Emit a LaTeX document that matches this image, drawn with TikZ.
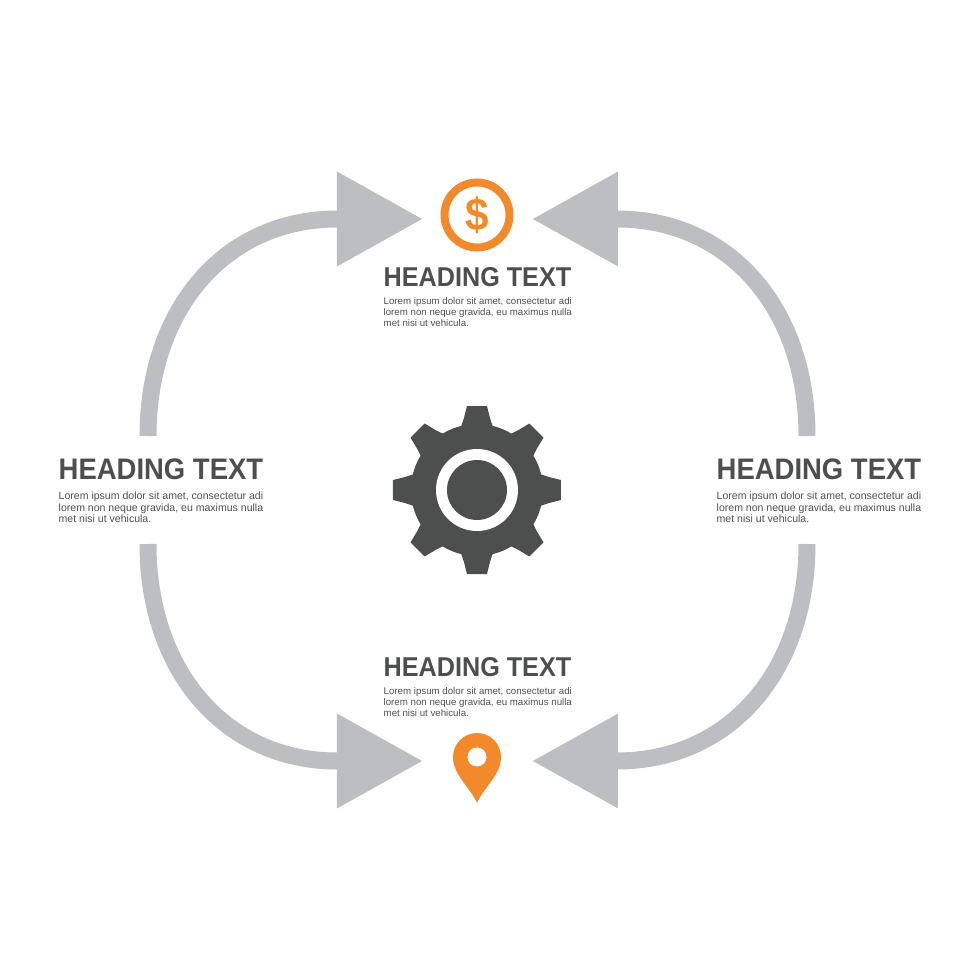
\documentclass[tikz,border=0pt]{standalone}
\usepackage{fontspec}
\setmainfont{Liberation Sans}
\newfontfamily\headfont[FakeStretch=0.925]{Liberation Sans Bold}
\usepackage{xcolor}
\usetikzlibrary{arrows.meta,positioning}
\definecolor{flowgrey}{HTML}{BCBEC2}
\definecolor{darkgrey}{HTML}{4D4E4E}
\definecolor{iconorange}{HTML}{F28A2C}
\newcommand{\loremtext}{Lorem ipsum dolor sit amet, consectetur adi\\lorem non neque gravida, eu maximus nulla\\met nisi ut vehicula.}
\tikzset{
  heading/.style={anchor=west,inner sep=0pt,text=darkgrey,font=\fontsize{7.75}{9}\headfont},
  sideheading/.style={heading,font=\fontsize{8.45}{9}\headfont},
  body/.style={inner sep=0pt,align=left,text=darkgrey,font=\fontsize{2.76}{3.15}\selectfont},
  sidebody/.style={body,font=\fontsize{3.0}{3.27}\selectfont},
  flow/.style={draw=flowgrey,line width=.17cm,-{Triangle[length=.86cm,width=.90cm,sep=0pt]}}
}

\begin{document}
\begin{tikzpicture}
\useasboundingbox (0,0) rectangle (9.8,9.8);

\node[heading] (tophead) at (3.83,7.03) {HEADING TEXT};
\node[sideheading] (lefthead) at (0.58,5.11) {HEADING TEXT};
\node[sideheading] (righthead) at (7.16,5.11) {HEADING TEXT};
\node[heading] (bottomhead) at (3.83,3.13) {HEADING TEXT};
\node[body, below=.09cm of tophead.south west, anchor=north west] (topbody) {\loremtext};
\node[sidebody, below=.11cm of lefthead.south west, anchor=north west] (leftbody) {\loremtext};
\node[sidebody, below=.11cm of righthead.south west, anchor=north west] (rightbody) {\loremtext};
\node[body, below=.09cm of bottomhead.south west, anchor=north west] (bottombody) {\loremtext};

% dollar icon
\node[circle,draw=iconorange,line width=.08cm,minimum size=.65cm,inner sep=0pt,
  text=iconorange,font=\fontsize{13}{13}\headfont] (dollar) at (4.77,7.65) {\$};

% pin icon
\path[fill=iconorange] (4.77,1.77) .. controls (4.70,1.93) and (4.53,2.05) .. (4.53,2.23)
  arc[start angle=180,end angle=0,radius=.24] .. controls (5.01,2.05) and (4.84,1.93) .. (4.77,1.77) -- cycle;
\node[circle,fill=white,minimum size=.19cm,inner sep=0pt] (pin) at (4.77,2.23) {};

% gear
\node[circle,fill=darkgrey,minimum size=1.32cm,inner sep=0pt] (gear) at (4.77,4.90) {};
\foreach \angle in {0,45,...,315}
  \fill[darkgrey,rotate around={\angle:(gear.center)}] (4.60,5.50) -- (4.64,5.62) -- (4.67,5.74) -- (4.87,5.74) -- (4.90,5.62) -- (4.94,5.50) -- cycle;
\node[circle,fill=white,minimum size=.82cm,inner sep=0pt] (ring) at (gear.center) {};
\node[circle,fill=darkgrey,minimum size=.60cm,inner sep=0pt] (hub) at (gear.center) {};

% free ends of the arrows
\coordinate (lefttop) at (1.48,5.44);
\coordinate (leftbottom) at (1.48,4.36);
\coordinate (righttop) at (8.07,5.44);
\coordinate (rightbottom) at (8.07,4.36);
\coordinate (dollarleft) at (4.23,7.61);
\coordinate (dollarright) at (5.32,7.61);
\coordinate (pinleft) at (4.23,2.19);
\coordinate (pinright) at (5.32,2.19);

\path[flow] (lefttop) .. controls (1.48,6.72) and (2.26,7.61) .. (3.37,7.61) -- (dollarleft);
\path[flow] (righttop) .. controls (8.07,6.72) and (7.29,7.61) .. (6.17,7.61) -- (dollarright);
\path[flow] (leftbottom) .. controls (1.48,3.08) and (2.26,2.19) .. (3.37,2.19) -- (pinleft);
\path[flow] (rightbottom) .. controls (8.07,3.08) and (7.29,2.19) .. (6.17,2.19) -- (pinright);

\end{tikzpicture}
\end{document}
